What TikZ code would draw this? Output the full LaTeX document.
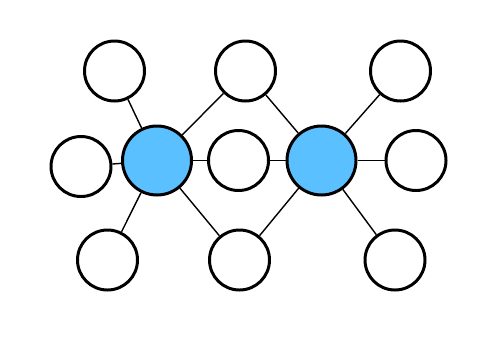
\documentclass[tikz,border=0pt]{standalone}
\definecolor{hubblau}{RGB}{91,192,255}
\begin{document}
\begin{tikzpicture}[
        leer/.style={circle, draw=black, line width=1.7pt, fill=white, minimum size=1.2cm, inner sep=0pt},
        knoten/.style={circle, draw=black, line width=1.7pt, fill=hubblau, minimum size=1.38cm, inner sep=0pt},
        kante/.style={line width=0.8pt}
    ]

                  % Rahmen
                  \useasboundingbox (0,0) rectangle (10,7.06);

                  % Zentrale Knoten
                  \node[knoten] (zl) at (3.14,3.85) {};
                  \node[knoten] (zr) at (6.43,3.85) {};

                  % Obere Reihe
                  \node[leer] (ol) at (2.29,5.64) {};
                  \node[leer] (om) at (4.91,5.64) {};
                  \node[leer] (or) at (8.01,5.64) {};
                  % Mittlere Reihe
                  \node[leer] (ml) at (1.62,3.73) {};
                  \node[leer] (mm) at (4.77,3.85) {};
                  \node[leer] (mr) at (8.32,3.85) {};
                  % Untere Reihe
                  \node[leer] (ul) at (2.15,1.86) {};
                  \node[leer] (um) at (4.79,1.86) {};
                  \node[leer] (ur) at (7.90,1.86) {};

                  % Kanten
                  \foreach \n in {ol,ml,ul,om,mm,um} {
                          \draw[kante] (zl) -- (\n);
                      }
                  \foreach \n in {om,mm,um,or,mr,ur} {
                          \draw[kante] (zr) -- (\n);
                      }
              \end{tikzpicture}
\end{document}
